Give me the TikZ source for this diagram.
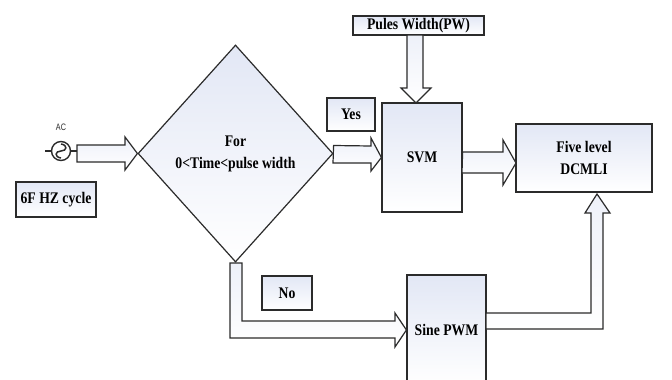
\documentclass[tikz,border=0pt]{standalone}
\usepackage{fontspec}
\setmainfont{Liberation Serif}
\setsansfont{Liberation Sans}
\usetikzlibrary{shapes.geometric,calc}
\definecolor{linec}{HTML}{2B2B2B}
\definecolor{fillc}{HTML}{E2E7F5}
\newcommand{\tx}[1]{\scalebox{1}[1.18]{#1}}
\begin{document}
\begin{tikzpicture}[x=1pt,y=-1pt,
  box/.style={draw=linec, line width=1.2pt, top color=fillc, bottom color=white,
    inner sep=0pt, font=\fontsize{13.7}{22}\selectfont\bfseries, align=center},
  barrow/.style={draw=linec, line width=1.2pt, top color=fillc!60, bottom color=white, line join=miter},
  wire/.style={draw=linec, line width=1.3pt}]
\useasboundingbox (0,0) rectangle (672,380);
\clip (0,0) rectangle (672,380);
\fill[white] (0,0) rectangle (672,380);

% nodes
\node[box, diamond, minimum width=195, minimum height=217] (dec) at (235.5,153.5)
  {\tx{For}\\\tx{0<Time<pulse width}};
\node[box, minimum width=80, minimum height=35] (cyc) at (56,199.5) {\tx{6F HZ cycle}};
\node[box, minimum width=131, minimum height=19] (pw) at (418.5,25.5) {\tx{Pules Width(PW)}};
\node[box, minimum width=80, minimum height=109] (svm) at (422,157.5) {\tx{SVM}};
\node[box, minimum width=48, minimum height=33] (yes) at (351,114.5) {\tx{Yes}};
\node[box, minimum width=136, minimum height=68] (dcm) at (584,158) {\tx{Five level}\\\tx{DCMLI}};
\node[box, minimum width=50, minimum height=34] (no) at (287,293) {\tx{No}};
\node[box, minimum width=79, minimum height=110] (spwm) at (446.5,330) {\tx{Sine PWM}};

% AC source
\node[circle, draw=linec, line width=1.4pt, fill=white, minimum size=19, inner sep=0pt] (ac) at (61,151) {};
\node[font=\sffamily\fontsize{8.5}{9}\selectfont, text=linec] (aclbl) at (61,127) {\scalebox{0.85}[1.1]{AC}};
\coordinate (acin) at (45,151);
\coordinate (acout) at (77,151);
\draw[wire] (acin) -- (ac.west);
\draw[wire] (ac.east) -- (acout);
\draw[line width=1.5pt, linec] (61,144) .. controls (68,145) and (67,151) .. (61,151)
  .. controls (55,151) and (54,157) .. (61,158);

% AC -> decision
\draw[barrow] (77,145) -- (125,145) -- (125,137) -- (dec.west) -- (125,170) -- (125,162) -- (77,162) -- cycle;
% Yes arrow: decision -> SVM
\draw[barrow] (dec.east) ++(0,-8) -- (371,146) -- (371,138) -- (svm.west) -- (371,171) -- (371,163) -- (333,163) -- cycle;
% PW -> SVM
\draw[barrow] (407,35) -- (407,88) -- (401,88) -- (416,103) -- (431,88) -- (423,88) -- (423,35) -- cycle;
% SVM -> DCMLI
\draw[barrow] (svm.east) ++(0,-5.5) -- (503,152) -- (503,140) -- (516,163) -- (503,185) -- (503,173) -- (462,173) -- cycle;
% No arrow: decision -> Sine PWM
\draw[barrow] (230,263) -- (242,263) -- (242,321) -- (395,321) -- (395,313) -- (spwm.west) -- (395,347) -- (395,338) -- (230,338) -- cycle;
% Sine PWM -> DCMLI
\draw[barrow] (486,313) -- (591,313) -- (591,213) -- (585,213) -- (597,194) -- (610,213) -- (603,213) -- (603,329) -- (486,329) -- cycle;
\end{tikzpicture}
\end{document}
